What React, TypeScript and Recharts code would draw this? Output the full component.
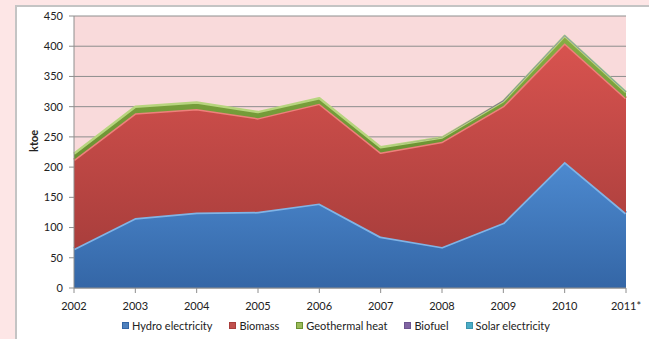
import React from "react";
import {
  AreaChart,
  Area,
  XAxis,
  YAxis,
  CartesianGrid,
} from "recharts";

// Renewable energy production by source, ktoe
const years = ["2002", "2003", "2004", "2005", "2006", "2007", "2008", "2009", "2010", "2011*"];
const hydro = [65, 116, 125, 126, 140, 85, 68, 108, 209, 124];
const biomass = [147, 173, 171, 155, 165, 139, 174, 193, 196, 190];
const geothermal = [10, 11, 11, 10, 9, 9, 7, 8, 12, 10];
const biofuel = [0, 0, 0, 0, 0, 0, 0.5, 1.5, 1, 0.8];
const solar = [0, 0, 0, 0, 0, 0, 0, 0.3, 0.5, 0.5];
const yTicks = [0, 50, 100, 150, 200, 250, 300, 350, 400, 450];

// edgeWidth: light bevel line along the top of each band (thin bands get none)
const series = [
  { key: "hydro", name: "Hydro electricity", top: "#4d8ad0", bottom: "#3466a6", edge: "#80b4e6", edgeWidth: 3.5, swatch: "#4f81bd" },
  { key: "biomass", name: "Biomass", top: "#d8534f", bottom: "#a93e3c", edge: "#ee807b", edgeWidth: 3, swatch: "#c0504d" },
  { key: "geothermal", name: "Geothermal heat", top: "#86ad45", bottom: "#6a9132", edge: "#b7d57e", edgeWidth: 2.5, swatch: "#9bbb59" },
  { key: "biofuel", name: "Biofuel", top: "#8a6db0", bottom: "#6d5490", edge: "none", edgeWidth: 0, swatch: "#8064a2" },
  { key: "solar", name: "Solar electricity", top: "#55b6d0", bottom: "#3b95ad", edge: "none", edgeWidth: 0, swatch: "#4bacc6" },
];

const data = years.map((year, i) => ({
  year,
  hydro: hydro[i],
  biomass: biomass[i],
  geothermal: geothermal[i],
  biofuel: biofuel[i],
  solar: solar[i],
}));

const font = "Lato, 'Liberation Sans', sans-serif";
const tickStyle = { fill: "#222", fontSize: 11, fontFamily: font };

export default function App() {
  return (
    <div
      style={{
        position: "relative",
        width: 649,
        height: 339,
        background: "#fde6e6",
        overflow: "hidden",
      }}
    >
      <style>{"body{margin:0}"}</style>
      <div
        style={{
          position: "absolute",
          left: 15,
          top: 5,
          right: 0,
          bottom: 0,
          background: "#fff",
          borderTop: "2px solid #c4c4c4",
          borderLeft: "2px solid #c4c4c4",
        }}
      />
      <div style={{ position: "absolute", left: 0, top: 0 }}>
        <AreaChart
          width={649}
          height={339}
          data={data}
          margin={{ top: 16, right: 23, bottom: 21, left: 30 }}
        >
          <defs>
            {series.map((s) => (
              <linearGradient key={s.key} id={`grad-${s.key}`} x1="0" y1="0" x2="0" y2="1">
                <stop offset="0%" stopColor={s.top} />
                <stop offset="100%" stopColor={s.bottom} />
              </linearGradient>
            ))}
          </defs>
          <CartesianGrid
            vertical={false}
            fill="#f9dadb"
            stroke="#8e8e8e"
            strokeWidth={1}
          />
          <XAxis
            dataKey="year"
            height={30}
            tick={tickStyle}
            tickSize={5}
            tickMargin={9}
            axisLine={{ stroke: "#8e8e8e" }}
            tickLine={{ stroke: "#8e8e8e" }}
            interval={0}
          />
          <YAxis
            width={44}
            domain={[0, 450]}
            ticks={yTicks}
            tick={tickStyle}
            tickSize={5}
            tickMargin={6}
            axisLine={{ stroke: "#8e8e8e" }}
            tickLine={{ stroke: "#8e8e8e" }}
            label={{
              value: "ktoe",
              angle: -90,
              position: "insideLeft",
              offset: 4,
              style: { fill: "#222", fontSize: 11, fontWeight: 700, fontFamily: font },
            }}
          />
          {series.map((s) => (
            <Area
              key={s.key}
              type="linear"
              dataKey={s.key}
              name={s.name}
              stackId="energy"
              fill={`url(#grad-${s.key})`}
              fillOpacity={1}
              stroke={s.edge}
              strokeWidth={s.edgeWidth}
              strokeLinejoin="round"
              dot={false}
              activeDot={false}
              isAnimationActive={false}
            />
          ))}
        </AreaChart>
      </div>
      <div
        style={{
          position: "absolute",
          left: 23,
          width: 626,
          top: 319,
          display: "flex",
          justifyContent: "center",
          gap: 17,
          fontFamily: font,
          fontSize: 11,
          color: "#222",
        }}
      >
        {series.map((s) => (
          <div key={s.key} style={{ display: "flex", alignItems: "center", gap: 3 }}>
            <span
              style={{
                display: "inline-block",
                width: 7,
                height: 7,
                background: s.swatch,
                border: `1px solid ${s.bottom}`,
                boxSizing: "border-box",
              }}
            />
            <span>{s.name}</span>
          </div>
        ))}
      </div>
    </div>
  );
}
